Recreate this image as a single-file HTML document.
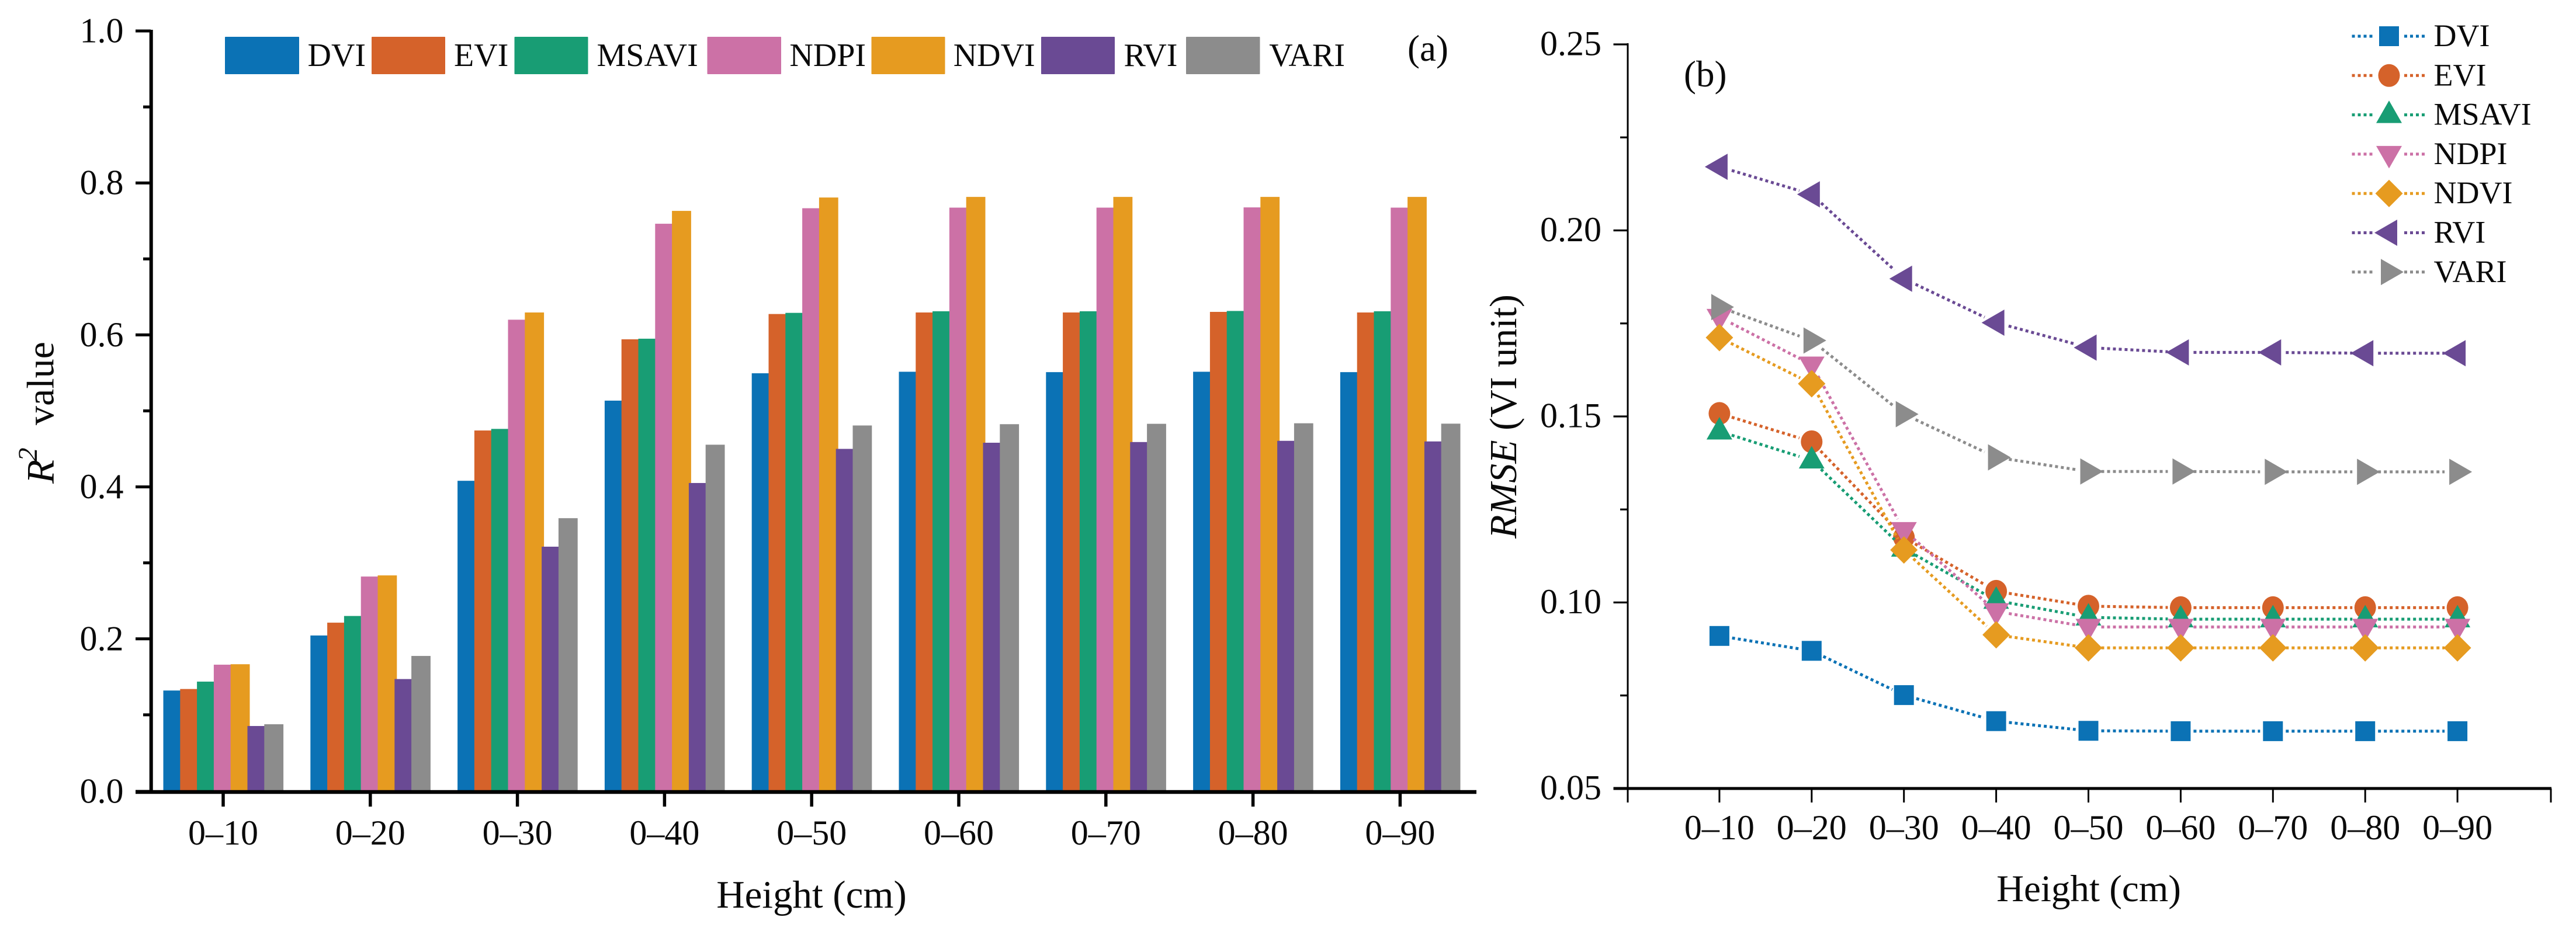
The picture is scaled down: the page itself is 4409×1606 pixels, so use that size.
<!DOCTYPE html>
<html lang="en">
<head>
<meta charset="utf-8">
<title>R2 and RMSE of vegetation indices by height</title>
<style>
html,body{margin:0;padding:0;background:#fff;}
svg{display:block;}
text{font-family:"Liberation Serif",serif;fill:#0a0a0a;}
</style>
</head>
<body>
<svg id="figure" xmlns="http://www.w3.org/2000/svg" width="4409" height="1606" viewBox="0 0 4409 1606">
  <rect x="0" y="0" width="4409" height="1606" fill="#ffffff"/>

  <g id="chart-a">
    <g id="a-bars"></g>
    <g id="a-axes"></g>
    <g font-size="56">
      <g><rect x="385" y="63" width="127" height="64" rx="1" fill="#0b72b5"/><text x="526.5" y="113">DVI</text></g>
      <g><rect x="636" y="63" width="126" height="64" rx="1" fill="#d5622a"/><text x="777" y="113">EVI</text></g>
      <g><rect x="880.5" y="63" width="126" height="64" rx="1" fill="#189d74"/><text x="1021.5" y="113">MSAVI</text></g>
      <g><rect x="1210.5" y="63" width="126.5" height="64" rx="1" fill="#cc71a6"/><text x="1351.4" y="113">NDPI</text></g>
      <g><rect x="1491.5" y="63" width="126" height="64" rx="1" fill="#e69b20"/><text x="1631.7" y="113">NDVI</text></g>
      <g><rect x="1782" y="63" width="126" height="64" rx="1" fill="#6a4a94"/><text x="1923.5" y="113">RVI</text></g>
      <g><rect x="2030" y="63" width="126.5" height="64" rx="1" fill="#8c8c8c"/><text x="2172.3" y="113">VARI</text></g>
    </g>
    <text x="2409" y="104" font-size="63">(a)</text>
    <text x="1389" y="1554" font-size="67" text-anchor="middle">Height (cm)</text>
    <g>
      <text transform="translate(91.5,828) rotate(-90)" font-size="67" font-style="italic">R</text>
      <text transform="translate(63,790) rotate(-90)" font-size="47" font-style="italic">2</text>
      <text transform="translate(91.5,728) rotate(-90)" font-size="66">value</text>
    </g>
  </g>

  <g id="chart-b">
    <g id="b-axes"></g>
    <g id="b-series"></g>
    <g id="b-legend"></g>
    <text x="2882" y="148" font-size="63">(b)</text>
    <text x="3575" y="1543" font-size="65" text-anchor="middle">Height (cm)</text>
    <text transform="translate(2595,922) rotate(-90)" font-size="66"><tspan font-style="italic">RMSE</tspan> (VI unit)</text>
  </g>
</svg>

<script>
const categories = ['0–10','0–20','0–30','0–40','0–50','0–60','0–70','0–80','0–90'];
const seriesNames = ['DVI','EVI','MSAVI','NDPI','NDVI','RVI','VARI'];

const r2Ticks = ['0.0','0.2','0.4','0.6','0.8','1.0'];
const r2DVI   = [0.132,0.2044,0.408,0.5135,0.5495,0.5515,0.551,0.5515,0.551];
const r2EVI   = [0.134,0.2213,0.4742,0.5942,0.6275,0.6295,0.6295,0.6303,0.6295];
const r2MSAVI = [0.1437,0.2301,0.4763,0.595,0.629,0.6311,0.6311,0.6315,0.6311];
const r2NDPI  = [0.166,0.282,0.62,0.7463,0.7667,0.7675,0.7675,0.7678,0.7675];
const r2NDVI  = [0.1666,0.2835,0.6295,0.7632,0.7808,0.7816,0.7816,0.7816,0.7816];
const r2RVI   = [0.0853,0.1471,0.3213,0.4051,0.45,0.4581,0.459,0.4606,0.4598];
const r2VARI  = [0.0876,0.1775,0.3588,0.4555,0.4808,0.4825,0.483,0.4837,0.4832];

const rmseTicks = ['0.05','0.10','0.15','0.20','0.25'];
const rmseDVI   = [0.091,0.087,0.0751,0.0681,0.0655,0.0654,0.0654,0.0654,0.0654];
const rmseEVI   = [0.1508,0.1432,0.1175,0.103,0.099,0.0986,0.0986,0.0986,0.0986];
const rmseMSAVI = [0.146,0.1382,0.1145,0.1005,0.096,0.0955,0.0955,0.0955,0.0955];
const rmseNDPI  = [0.1767,0.1639,0.1194,0.0976,0.0934,0.0934,0.0934,0.0934,0.0934];
const rmseNDVI  = [0.1712,0.1588,0.1141,0.0913,0.0878,0.0878,0.0878,0.0878,0.0878];
const rmseRVI   = [0.2171,0.2097,0.187,0.1752,0.1685,0.1672,0.1672,0.167,0.167];
const rmseVARI  = [0.1794,0.1704,0.1506,0.139,0.1352,0.1352,0.1351,0.1351,0.1351];

const r2Series = [r2DVI,r2EVI,r2MSAVI,r2NDPI,r2NDVI,r2RVI,r2VARI];
const rmseSeries = [rmseDVI,rmseEVI,rmseMSAVI,rmseNDPI,rmseNDVI,rmseRVI,rmseVARI];
const colors = ['#0b72b5','#d5622a','#189d74','#cc71a6','#e69b20','#6a4a94','#8c8c8c'];
const shapes = ['square','circle','up','down','diamond','left','right'];

const NS = 'http://www.w3.org/2000/svg';
function make(parent, tag, attrs, txt) {
  const e = document.createElementNS(NS, tag);
  for (const k in attrs) e.setAttribute(k, attrs[k]);
  if (txt !== undefined) e.textContent = txt;
  parent.appendChild(e);
  return e;
}
function slug(s) { return s.toLowerCase().replace(/[^a-z0-9]+/g, '-'); }

/* ---------- chart a ---------- */
const aY = v => 1354 - 1301 * v;
const aX = i => 382 + 251.8 * i;
const barStep = 28.8, barWidth = 32.8, barOffset = -102.5;
const aBars = document.getElementById('a-bars');
const aAxes = document.getElementById('a-axes');

/* each bar is wider than the step, so the next series overlaps it */
r2Series.forEach((vals, s) => {
  vals.forEach((v, i) => {
    const b = make(aBars, 'rect', {
      x: aX(i) + barOffset + barStep * s,
      y: aY(v),
      width: barWidth,
      height: aY(0) - aY(v),
      fill: colors[s]
    });
    
    
  });
});

const aYLine = make(aAxes, 'line', {x1: 258.7, y1: 51, x2: 258.7, y2: 1359, stroke: '#000', 'stroke-width': 6});


const aXLine = make(aAxes, 'line', {x1: 232, y1: 1356, x2: 2527, y2: 1356, stroke: '#000', 'stroke-width': 6.5});



r2Ticks.forEach((t, i) => {
  const v = parseFloat(t);
  const yy = i === 0 ? 1355 : aY(v);
  const tick = make(aAxes, 'line', {x1: 232, y1: yy, x2: 258, y2: yy, stroke: '#000', 'stroke-width': 5});
  
  
  const lab = make(aAxes, 'text', {x: 211.5, y: yy + 19.5, 'font-size': 60, 'text-anchor': 'end'}, t);
  
  
  if (i < r2Ticks.length - 1) {
    const m = aY(v + 0.1);
    const minor = make(aAxes, 'line', {x1: 245, y1: m, x2: 258, y2: m, stroke: '#000', 'stroke-width': 5});
    
    
  }
});
categories.forEach((c, i) => {
  const tick = make(aAxes, 'line', {x1: aX(i), y1: 1356, x2: aX(i), y2: 1381, stroke: '#000', 'stroke-width': 5.5});
  
  
  const lab = make(aAxes, 'text', {x: aX(i), y: 1446, 'font-size': 60, 'text-anchor': 'middle'}, c);
  
  
});

/* ---------- chart b ---------- */
const bY = v => 1350 - (v - 0.05) * 6370;
const bX = i => 2785 + 157.9 * (i + 1);
const bAxes = document.getElementById('b-axes');
const bGroup = document.getElementById('b-series');
const bLegend = document.getElementById('b-legend');

function marker(parent, shape, cx, cy, color) {
  if (shape === 'square') return make(parent, 'rect', {x: cx - 17, y: cy - 17, width: 34, height: 34, fill: color});
  if (shape === 'circle') return make(parent, 'ellipse', {cx: cx, cy: cy, rx: 18.5, ry: 19.5, fill: color});
  let pts;
  if (shape === 'up') pts = [[cx, cy - 24.5], [cx + 22, cy + 14], [cx - 22, cy + 14]];
  if (shape === 'down') pts = [[cx, cy + 24.5], [cx + 22, cy - 14], [cx - 22, cy - 14]];
  if (shape === 'diamond') pts = [[cx, cy - 23.5], [cx + 23.5, cy], [cx, cy + 23.5], [cx - 23.5, cy]];
  if (shape === 'left') pts = [[cx - 25, cy], [cx + 14, cy - 22.5], [cx + 14, cy + 22.5]];
  if (shape === 'right') pts = [[cx + 25, cy], [cx - 14, cy - 22.5], [cx - 14, cy + 22.5]];
  return make(parent, 'polygon', {points: pts.map(p => p.join(',')).join(' '), fill: color});
}

const bYLine = make(bAxes, 'line', {x1: 2786, y1: 74, x2: 2786, y2: 1374, stroke: '#000', 'stroke-width': 3});


const bXLine = make(bAxes, 'line', {x1: 2761.5, y1: 1350, x2: 4367, y2: 1350, stroke: '#000', 'stroke-width': 5});


const bEndTick = make(bAxes, 'line', {x1: 4366, y1: 1350, x2: 4366, y2: 1374, stroke: '#000', 'stroke-width': 3});



rmseTicks.forEach((t, i) => {
  const v = parseFloat(t);
  const tick = make(bAxes, 'line', {x1: 2761.5, y1: bY(v), x2: 2786, y2: bY(v), stroke: '#000', 'stroke-width': 3.2});
  
  
  const lab = make(bAxes, 'text', {x: 2741, y: bY(v) + 18.5, 'font-size': 60, 'text-anchor': 'end'}, t);
  
  
  if (i < rmseTicks.length - 1) {
    const m = bY(v + 0.025);
    const minor = make(bAxes, 'line', {x1: 2773, y1: m, x2: 2786, y2: m, stroke: '#000', 'stroke-width': 3.2});
    
    
  }
});
categories.forEach((c, i) => {
  const tick = make(bAxes, 'line', {x1: bX(i), y1: 1350, x2: bX(i), y2: 1374, stroke: '#000', 'stroke-width': 3});
  
  
  const lab = make(bAxes, 'text', {x: bX(i), y: 1437, 'font-size': 60, 'text-anchor': 'middle'}, c);
  
  
});

const segmentGap = 22;
rmseSeries.forEach((vals, s) => {
  const g = make(bGroup, 'g', {});
  
  
  for (let i = 0; i < vals.length - 1; i++) {
    const x1 = bX(i), y1 = bY(vals[i]), x2 = bX(i + 1), y2 = bY(vals[i + 1]);
    const len = Math.hypot(x2 - x1, y2 - y1);
    const ux = (x2 - x1) / len, uy = (y2 - y1) / len;
    const seg = make(g, 'line', {
      x1: x1 + ux * segmentGap, y1: y1 + uy * segmentGap,
      x2: x2 - ux * segmentGap, y2: y2 - uy * segmentGap,
      stroke: colors[s], 'stroke-width': 5, 'stroke-dasharray': '5 5'
    });
    
    
  }
  vals.forEach((v, i) => {
    const p = marker(g, shapes[s], bX(i), bY(v), colors[s]);
    
    
  });
});

seriesNames.forEach((name, s) => {
  const yy = 62 + 67.3 * s;
  const g = make(bLegend, 'g', {});
  
  
  make(g, 'line', {x1: 4025.5, y1: yy, x2: 4063, y2: yy, stroke: colors[s], 'stroke-width': 5, 'stroke-dasharray': '5 5'});
  make(g, 'line', {x1: 4115, y1: yy, x2: 4152, y2: yy, stroke: colors[s], 'stroke-width': 5, 'stroke-dasharray': '5 5'});
  marker(g, shapes[s], 4089, yy, colors[s]);
  make(g, 'text', {x: 4165.5, y: yy + 17, 'font-size': 54}, name);
});
</script>
</body>
</html>
